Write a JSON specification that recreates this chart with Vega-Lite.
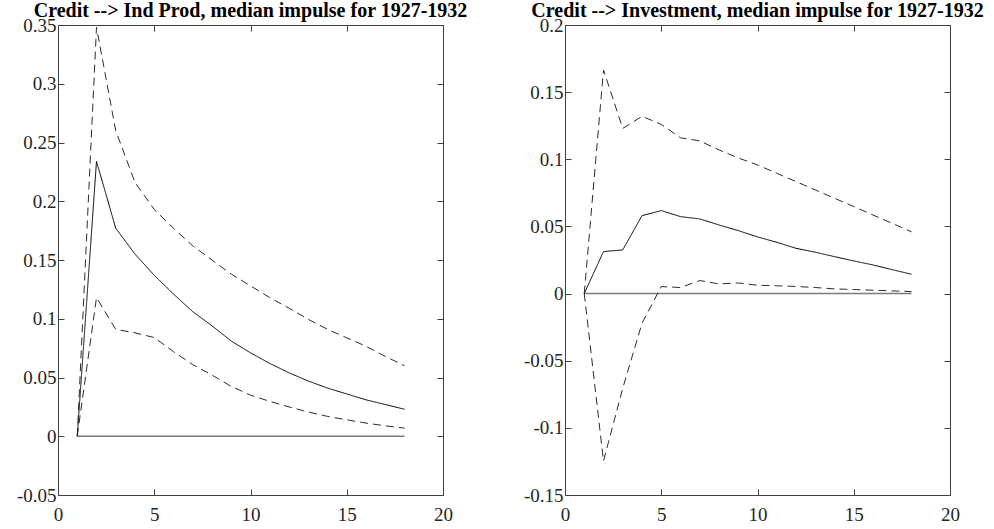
{
  "$schema": "https://vega.github.io/schema/vega-lite/v6.json",
  "padding": {"left": 15, "top": 0, "right": 5, "bottom": 0},
  "background": "white",
  "datasets": {
    "indprod": [
      {"step": 1, "median": 0, "upper": 0, "lower": 0, "zero": 0},
      {"step": 2, "median": 0.234, "upper": 0.348, "lower": 0.118, "zero": 0},
      {"step": 3, "median": 0.177, "upper": 0.26, "lower": 0.091, "zero": 0},
      {"step": 4, "median": 0.155, "upper": 0.216, "lower": 0.088, "zero": 0},
      {"step": 5, "median": 0.137, "upper": 0.193, "lower": 0.084, "zero": 0},
      {"step": 6, "median": 0.121, "upper": 0.177, "lower": 0.072, "zero": 0},
      {"step": 7, "median": 0.106, "upper": 0.162, "lower": 0.061, "zero": 0},
      {"step": 8, "median": 0.094, "upper": 0.15, "lower": 0.052, "zero": 0},
      {"step": 9, "median": 0.081, "upper": 0.138, "lower": 0.0425, "zero": 0},
      {"step": 10, "median": 0.071, "upper": 0.128, "lower": 0.035, "zero": 0},
      {"step": 11, "median": 0.062, "upper": 0.118, "lower": 0.0297, "zero": 0},
      {"step": 12, "median": 0.054, "upper": 0.109, "lower": 0.025, "zero": 0},
      {"step": 13, "median": 0.047, "upper": 0.0995, "lower": 0.0206, "zero": 0},
      {"step": 14, "median": 0.041, "upper": 0.091, "lower": 0.0169, "zero": 0},
      {"step": 15, "median": 0.036, "upper": 0.0838, "lower": 0.014, "zero": 0},
      {"step": 16, "median": 0.031, "upper": 0.0766, "lower": 0.0112, "zero": 0},
      {"step": 17, "median": 0.027, "upper": 0.068, "lower": 0.0089, "zero": 0},
      {"step": 18, "median": 0.023, "upper": 0.06, "lower": 0.0069, "zero": 0}
    ],
    "investment": [
      {"step": 1, "median": 0, "upper": 0, "lower": 0, "zero": 0},
      {"step": 2, "median": 0.0313, "upper": 0.1665, "lower": -0.1247, "zero": 0},
      {"step": 3, "median": 0.0325, "upper": 0.123, "lower": -0.0705, "zero": 0},
      {"step": 4, "median": 0.058, "upper": 0.132, "lower": -0.0221, "zero": 0},
      {"step": 5, "median": 0.0618, "upper": 0.126, "lower": 0.0052, "zero": 0},
      {"step": 6, "median": 0.0573, "upper": 0.116, "lower": 0.0045, "zero": 0},
      {"step": 7, "median": 0.0556, "upper": 0.1137, "lower": 0.0097, "zero": 0},
      {"step": 8, "median": 0.0511, "upper": 0.107, "lower": 0.0072, "zero": 0},
      {"step": 9, "median": 0.0469, "upper": 0.101, "lower": 0.0079, "zero": 0},
      {"step": 10, "median": 0.0422, "upper": 0.0958, "lower": 0.0062, "zero": 0},
      {"step": 11, "median": 0.0382, "upper": 0.0896, "lower": 0.0058, "zero": 0},
      {"step": 12, "median": 0.0337, "upper": 0.0834, "lower": 0.0053, "zero": 0},
      {"step": 13, "median": 0.0308, "upper": 0.0772, "lower": 0.0045, "zero": 0},
      {"step": 14, "median": 0.0275, "upper": 0.071, "lower": 0.0035, "zero": 0},
      {"step": 15, "median": 0.0243, "upper": 0.0648, "lower": 0.003, "zero": 0},
      {"step": 16, "median": 0.0213, "upper": 0.0585, "lower": 0.0025, "zero": 0},
      {"step": 17, "median": 0.0178, "upper": 0.0523, "lower": 0.002, "zero": 0},
      {"step": 18, "median": 0.0144, "upper": 0.046, "lower": 0.0015, "zero": 0}
    ]
  },
  "hconcat": [
    {
      "width": 385,
      "height": 470,
      "title": {"text": "Credit --> Ind Prod, median impulse for 1927-1932"},
      "data": {"name": "indprod"},
      "transform": [{"fold": ["zero", "median", "upper", "lower"], "as": ["series", "value"]}],
      "layer": [
        {
          "transform": [{"filter": "datum.series == 'zero'"}],
          "mark": {"type": "line", "color": "#7a7a7a", "strokeWidth": 1.6},
          "encoding": {
            "x": {"field": "step", "type": "quantitative", "scale": {"domain": [0, 20], "nice": false},
                  "axis": {"orient": "bottom", "title": null, "labelPadding": 16, "values": [0, 5, 10, 15, 20]}},
            "y": {"field": "value", "type": "quantitative", "scale": {"domain": [-0.05, 0.35], "nice": false, "zero": false},
                  "axis": {"orient": "left", "title": null, "values": [-0.05, 0, 0.05, 0.1, 0.15, 0.2, 0.25, 0.3, 0.35], "labelExpr": "'' + datum.value"}}
          }
        },
        {
          "transform": [{"filter": "datum.series != 'zero'"}],
          "mark": {"type": "line", "strokeWidth": 1},
          "encoding": {
            "x": {"field": "step", "type": "quantitative", "scale": {"domain": [0, 20], "nice": false},
                  "axis": {"orient": "top", "title": null, "labels": false, "labelPadding": 0, "minExtent": 0, "maxExtent": 0, "values": [0, 5, 10, 15, 20]}},
            "y": {"field": "value", "type": "quantitative", "scale": {"domain": [-0.05, 0.35], "nice": false, "zero": false},
                  "axis": {"orient": "right", "title": null, "labels": false, "labelPadding": 0, "minExtent": 0, "maxExtent": 0, "values": [-0.05, 0, 0.05, 0.1, 0.15, 0.2, 0.25, 0.3, 0.35]}},
            "color": {"field": "series", "type": "nominal", "legend": null,
                      "scale": {"domain": ["median", "upper", "lower"], "range": ["#000000", "#2b2b2b", "#2b2b2b"]}},
            "strokeDash": {"field": "series", "type": "nominal", "legend": null,
                           "scale": {"domain": ["median", "upper", "lower"], "range": [[1, 0], [8, 5], [8, 5]]}}
          }
        }
      ],
      "resolve": {"axis": {"x": "independent", "y": "independent"}}
    },
    {
      "width": 385,
      "height": 470,
      "title": {"text": "Credit --> Investment, median impulse for 1927-1932"},
      "data": {"name": "investment"},
      "transform": [{"fold": ["zero", "median", "upper", "lower"], "as": ["series", "value"]}],
      "layer": [
        {
          "transform": [{"filter": "datum.series == 'zero'"}],
          "mark": {"type": "line", "color": "#7a7a7a", "strokeWidth": 1.6},
          "encoding": {
            "x": {"field": "step", "type": "quantitative", "scale": {"domain": [0, 20], "nice": false},
                  "axis": {"orient": "bottom", "title": null, "labelPadding": 16, "values": [0, 5, 10, 15, 20]}},
            "y": {"field": "value", "type": "quantitative", "scale": {"domain": [-0.15, 0.2], "nice": false, "zero": false},
                  "axis": {"orient": "left", "title": null, "values": [-0.15, -0.1, -0.05, 0, 0.05, 0.1, 0.15, 0.2], "labelExpr": "'' + datum.value"}}
          }
        },
        {
          "transform": [{"filter": "datum.series != 'zero'"}],
          "mark": {"type": "line", "strokeWidth": 1},
          "encoding": {
            "x": {"field": "step", "type": "quantitative", "scale": {"domain": [0, 20], "nice": false},
                  "axis": {"orient": "top", "title": null, "labels": false, "labelPadding": 0, "minExtent": 0, "maxExtent": 0, "values": [0, 5, 10, 15, 20]}},
            "y": {"field": "value", "type": "quantitative", "scale": {"domain": [-0.15, 0.2], "nice": false, "zero": false},
                  "axis": {"orient": "right", "title": null, "labels": false, "labelPadding": 0, "minExtent": 0, "maxExtent": 0, "values": [-0.15, -0.1, -0.05, 0, 0.05, 0.1, 0.15, 0.2]}},
            "color": {"field": "series", "type": "nominal", "legend": null,
                      "scale": {"domain": ["median", "upper", "lower"], "range": ["#000000", "#2b2b2b", "#2b2b2b"]}},
            "strokeDash": {"field": "series", "type": "nominal", "legend": null,
                           "scale": {"domain": ["median", "upper", "lower"], "range": [[1, 0], [8, 5], [8, 5]]}}
          }
        }
      ],
      "resolve": {"axis": {"x": "independent", "y": "independent"}}
    }
  ],
  "spacing": 54,
  "config": {
    "font": "Liberation Serif",
    "view": {"stroke": "#404040", "strokeWidth": 1},
    "axis": {
      "domain": false,
      "grid": false,
      "tickSize": -6,
      "tickColor": "#404040",
      "labelFont": "Liberation Serif",
      "labelFontSize": 19,
      "labelColor": "#262626",
      "labelFlush": false,
      "labelOverlap": false,
      "labelBound": false,
      "labelPadding": 8
    },
    "title": {
      "font": "Liberation Serif",
      "fontSize": 20,
      "fontWeight": "bold",
      "color": "#000000",
      "anchor": "middle",
      "offset": -5
    }
  }
}
